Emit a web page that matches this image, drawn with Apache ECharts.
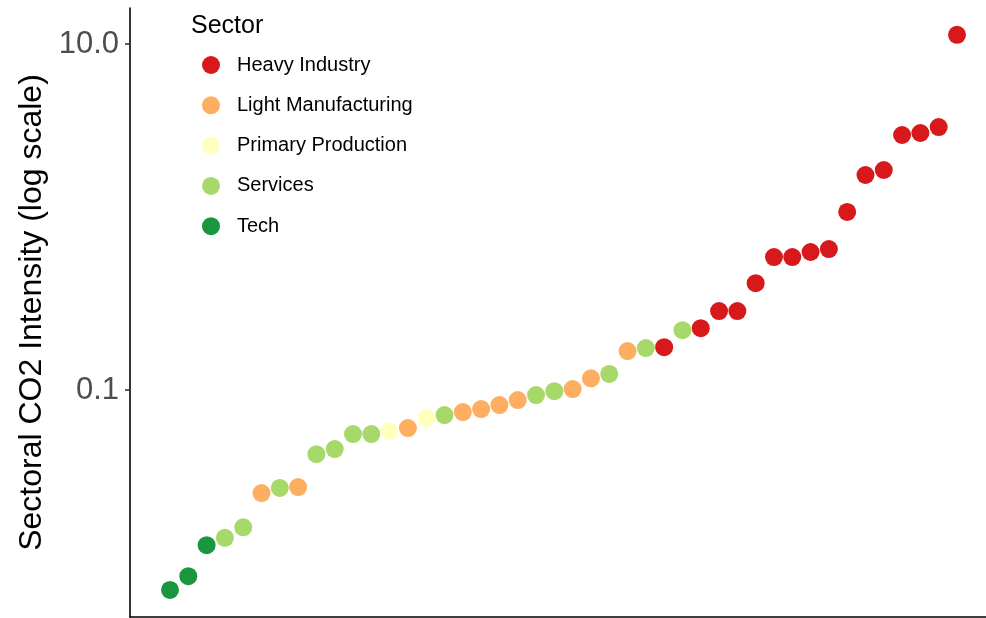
<!DOCTYPE html>
<html>
<head>
<meta charset="utf-8">
<script src="https://cdn.jsdelivr.net/npm/echarts@6/dist/echarts.min.js"></script>
<style>html,body{margin:0;padding:0;background:#fff}#chart{width:986px;height:618px}</style>
</head>
<body>
<div id="chart"></div>
<script>
const sectorNames = ['Heavy Industry', 'Light Manufacturing', 'Primary Production', 'Services', 'Tech'];
const sectorColors = ['#d7191c', '#fdae61', '#ffffbf', '#a6d96a', '#1a9641'];
const pointSector = [
  'Tech', 'Tech', 'Tech', 'Services', 'Services', 'Light Manufacturing', 'Services', 'Light Manufacturing',
  'Services', 'Services', 'Services', 'Services', 'Primary Production', 'Light Manufacturing', 'Primary Production',
  'Services', 'Light Manufacturing', 'Light Manufacturing', 'Light Manufacturing', 'Light Manufacturing',
  'Services', 'Services', 'Light Manufacturing', 'Light Manufacturing', 'Services', 'Light Manufacturing',
  'Services', 'Heavy Industry', 'Services', 'Heavy Industry', 'Heavy Industry', 'Heavy Industry',
  'Heavy Industry', 'Heavy Industry', 'Heavy Industry', 'Heavy Industry', 'Heavy Industry', 'Heavy Industry',
  'Heavy Industry', 'Heavy Industry', 'Heavy Industry', 'Heavy Industry', 'Heavy Industry', 'Heavy Industry'
];
const intensity = [
  0.0070, 0.0084, 0.0127, 0.0140, 0.0161, 0.0254, 0.0272, 0.0275, 0.0426, 0.0456, 0.0557,
  0.0557, 0.0580, 0.0603, 0.0689, 0.0717, 0.0746, 0.0777, 0.0819, 0.0875, 0.0935, 0.0986,
  0.1014, 0.117, 0.124, 0.168, 0.175, 0.177, 0.222, 0.228, 0.286, 0.286, 0.415,
  0.587, 0.587, 0.628, 0.653, 1.07, 1.75, 1.87, 2.98, 3.06, 3.31, 11.3
];
const yTickValues = [0.1, 10];

const series = sectorNames.map((name, k) => ({
  name: name,
  type: 'scatter',
  symbol: 'circle',
  symbolSize: 18,
  itemStyle: { color: sectorColors[k], opacity: 1 },
  data: intensity.map((v, i) => pointSector[i] === name ? [i + 1, v] : null).filter(d => d)
}));

const chart = echarts.init(document.getElementById('chart'), null, { renderer: 'canvas' });
chart.setOption({
  animation: false,
  backgroundColor: '#ffffff',
  textStyle: { fontFamily: 'Liberation Sans, Arial, sans-serif' },
  title: {
    text: 'Sector', left: 191, top: 14, padding: 0,
    textStyle: { fontSize: 25, fontWeight: 'normal', color: '#000', fontFamily: 'Liberation Sans, Arial, sans-serif' }
  },
  legend: {
    orient: 'vertical', left: 202, top: 55, padding: 0,
    icon: 'circle', itemWidth: 18, itemHeight: 18, itemGap: 20.3,
    data: sectorNames,
    textStyle: { fontSize: 20, color: '#000', lineHeight: 16, height: 16, padding: [0, 0, 0, 12], fontFamily: 'Liberation Sans, Arial, sans-serif' }
  },
  grid: { left: 130, right: 0, top: 8, bottom: 1, containLabel: false },
  xAxis: {
    type: 'value', min: -1.1855, max: 45.585,
    axisLine: { show: true, onZero: false, lineStyle: { color: '#000', width: 1.6 } },
    axisTick: { show: false }, axisLabel: { show: false }, splitLine: { show: false }
  },
  yAxis: {
    type: 'log', logBase: 10, min: 0.00488, max: 16.15,
    name: 'Sectoral CO2 Intensity (log scale)', nameLocation: 'middle', nameGap: 80,
    nameTextStyle: { fontSize: 32, color: '#000', fontFamily: 'Liberation Sans, Arial, sans-serif' },
    axisLine: { show: true, onZero: false, lineStyle: { color: '#000', width: 1.6 } },
    axisTick: { show: true, length: 5, customValues: yTickValues, lineStyle: { color: '#333', width: 1.6 } },
    axisLabel: { show: true, margin: 11, fontSize: 31, color: '#4d4d4d', customValues: yTickValues,
      formatter: v => Number(v).toFixed(1) },
    splitLine: { show: false }, minorTick: { show: false }
  },
  series: series
});
</script>
</body>
</html>
